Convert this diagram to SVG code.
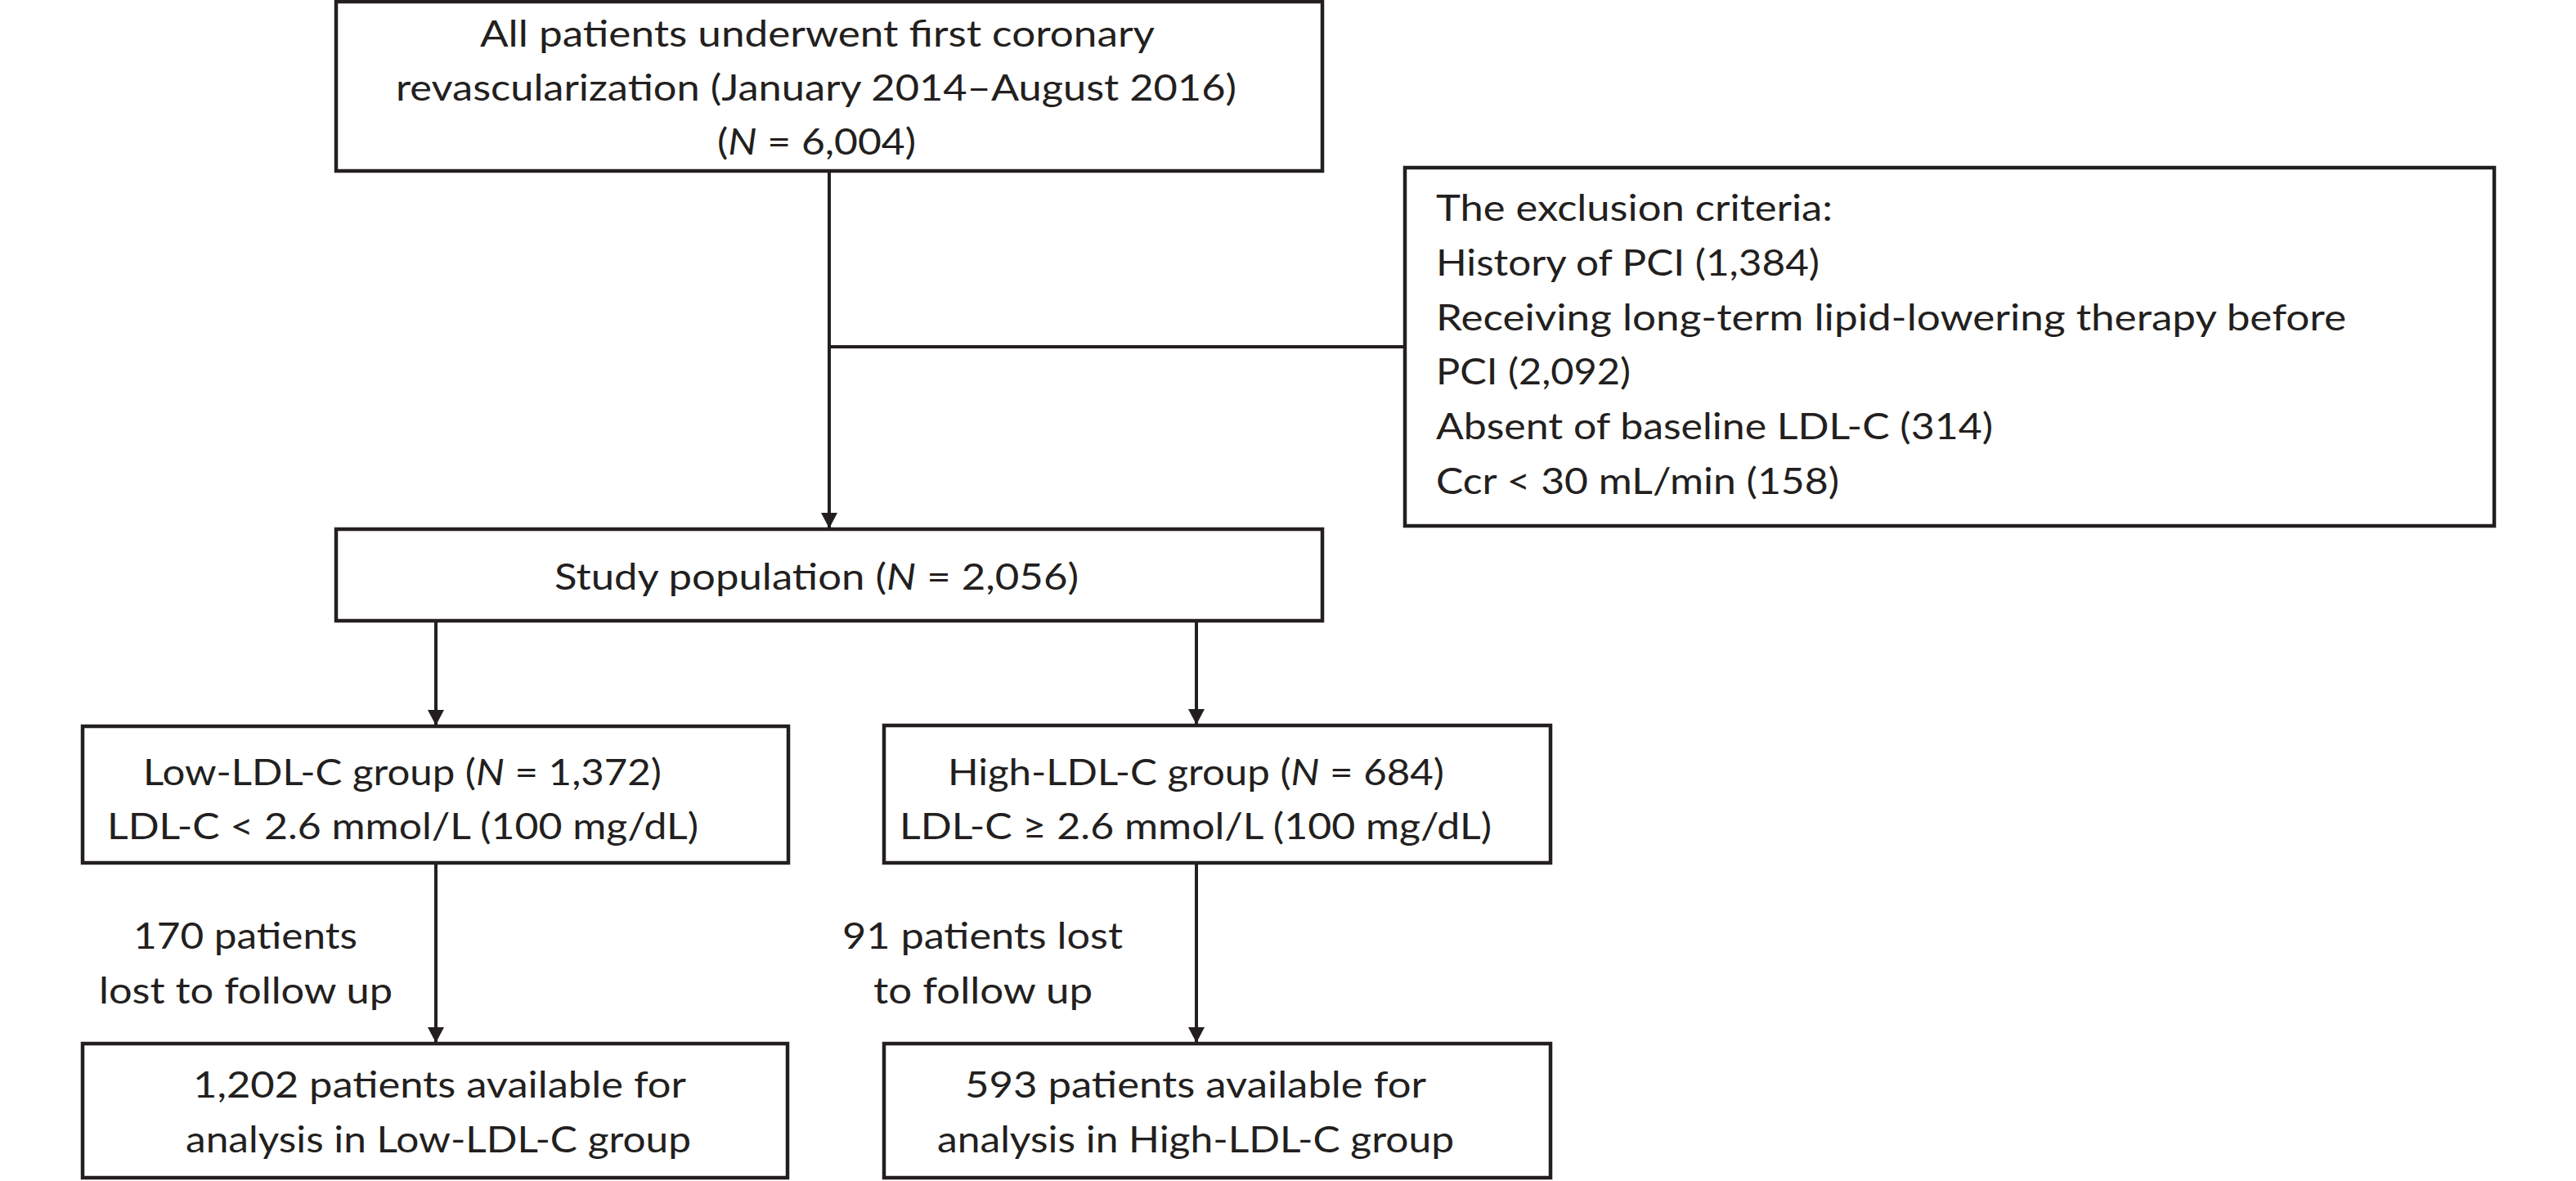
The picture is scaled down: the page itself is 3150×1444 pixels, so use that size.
<svg xmlns="http://www.w3.org/2000/svg" width="3150" height="1444" viewBox="0 0 3150 1444">
<style>
.box{fill:#fff;stroke:#231f20;stroke-width:4.5}
.ln{fill:none;stroke:#231f20;stroke-width:4}
text{font-family:Lato,"Open Sans","Liberation Sans",sans-serif;font-size:44px;fill:#231f20}
.i{font-style:italic}
</style>
<defs>
<marker id="ah" viewBox="0 0 19 20" refX="19" refY="10" markerWidth="19" markerHeight="20" markerUnits="userSpaceOnUse" orient="auto">
<path d="M0,0 L19,10 L0,20 z" fill="#231f20"/>
</marker>
</defs>
<rect width="3150" height="1444" fill="#fff"/>
<g id="connectors">
<line class="ln" x1="1014" y1="209" x2="1014" y2="646" marker-end="url(#ah)"/>
<line class="ln" x1="1014" y1="424" x2="1718" y2="424"/>
<line class="ln" x1="533" y1="759" x2="533" y2="887" marker-end="url(#ah)"/>
<line class="ln" x1="1463" y1="759" x2="1463" y2="886" marker-end="url(#ah)"/>
<line class="ln" x1="533" y1="1055" x2="533" y2="1275" marker-end="url(#ah)"/>
<line class="ln" x1="1463" y1="1055" x2="1463" y2="1275" marker-end="url(#ah)"/>
</g>
<g id="n-all">
<rect class="box" x="411" y="2" width="1206" height="207"/>
<text x="587" y="57" textLength="825" lengthAdjust="spacingAndGlyphs">All patients underwent first coronary</text>
<text x="484" y="123" textLength="1028" lengthAdjust="spacingAndGlyphs">revascularization (January 2014–August 2016)</text>
<text x="877" y="189" textLength="243" lengthAdjust="spacingAndGlyphs">(<tspan class="i">N</tspan> = 6,004)</text>
</g>
<g id="n-excl">
<rect class="box" x="1718" y="205" width="1332" height="438"/>
<text x="1756" y="270" textLength="485" lengthAdjust="spacingAndGlyphs">The exclusion criteria:</text>
<text x="1756" y="337" textLength="469" lengthAdjust="spacingAndGlyphs">History of PCI (1,384)</text>
<text x="1756" y="404" textLength="1113" lengthAdjust="spacingAndGlyphs">Receiving long-term lipid-lowering therapy before</text>
<text x="1756" y="470" textLength="238" lengthAdjust="spacingAndGlyphs">PCI (2,092)</text>
<text x="1756" y="537" textLength="681" lengthAdjust="spacingAndGlyphs">Absent of baseline LDL-C (314)</text>
<text x="1756" y="604" textLength="493" lengthAdjust="spacingAndGlyphs">Ccr &lt; 30 mL/min (158)</text>
</g>
<g id="n-study">
<rect class="box" x="411" y="647" width="1206" height="112"/>
<text x="678" y="721" textLength="641" lengthAdjust="spacingAndGlyphs">Study population (<tspan class="i">N</tspan> = 2,056)</text>
</g>
<g id="n-low">
<rect class="box" x="101" y="888" width="863" height="167"/>
<text x="175" y="960" textLength="634" lengthAdjust="spacingAndGlyphs">Low-LDL-C group (<tspan class="i">N</tspan> = 1,372)</text>
<text x="131" y="1026" textLength="723" lengthAdjust="spacingAndGlyphs">LDL-C &lt; 2.6 mmol/L (100 mg/dL)</text>
</g>
<g id="n-high">
<rect class="box" x="1081" y="887" width="815" height="168"/>
<text x="1159" y="960" textLength="607" lengthAdjust="spacingAndGlyphs">High-LDL-C group (<tspan class="i">N</tspan> = 684)</text>
<text x="1100" y="1026" textLength="724" lengthAdjust="spacingAndGlyphs">LDL-C ≥ 2.6 mmol/L (100 mg/dL)</text>
</g>
<g id="lbl-lost-low">
<text x="163" y="1160" textLength="274" lengthAdjust="spacingAndGlyphs">170 patients</text>
<text x="121" y="1227" textLength="359" lengthAdjust="spacingAndGlyphs">lost to follow up</text>
</g>
<g id="lbl-lost-high">
<text x="1030" y="1160" textLength="343" lengthAdjust="spacingAndGlyphs">91 patients lost</text>
<text x="1068" y="1227" textLength="268" lengthAdjust="spacingAndGlyphs">to follow up</text>
</g>
<g id="n-final-low">
<rect class="box" x="101" y="1276" width="862" height="164"/>
<text x="236" y="1342" textLength="603" lengthAdjust="spacingAndGlyphs">1,202 patients available for</text>
<text x="227" y="1409" textLength="618" lengthAdjust="spacingAndGlyphs">analysis in Low-LDL-C group</text>
</g>
<g id="n-final-high">
<rect class="box" x="1081" y="1276" width="815" height="164"/>
<text x="1180" y="1342" textLength="564" lengthAdjust="spacingAndGlyphs">593 patients available for</text>
<text x="1146" y="1409" textLength="632" lengthAdjust="spacingAndGlyphs">analysis in High-LDL-C group</text>
</g>
</svg>
